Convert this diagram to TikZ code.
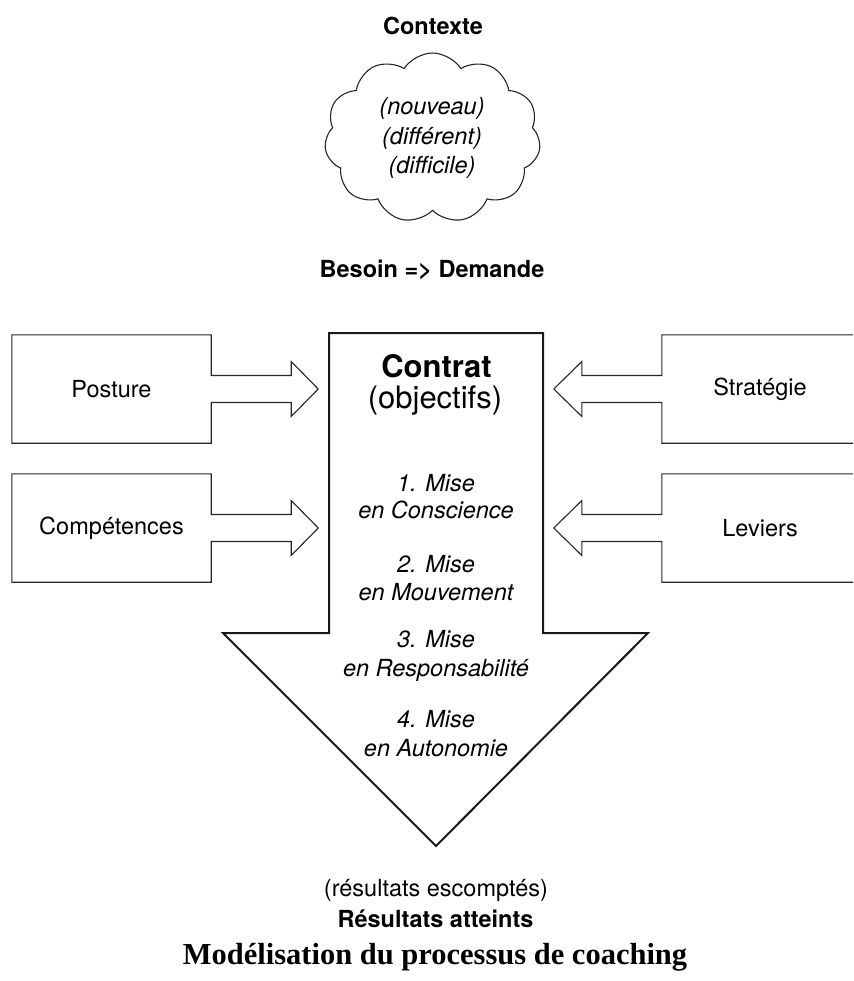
\documentclass[tikz,border=0pt]{standalone}
\usepackage{fontspec}
\setmainfont{TeX Gyre Heros}
\newfontfamily\capfont{Liberation Serif}
\usetikzlibrary{shapes.symbols,calc}
\begin{document}
\begin{tikzpicture}[x=1pt,y=-1pt,
  txt/.style={anchor=base,inner sep=0pt,font=\fontsize{23.5}{28}\selectfont},
  btxt/.style={txt,font=\fontsize{23.5}{28}\selectfont\bfseries},
  itxt/.style={txt,font=\fontsize{23.5}{28}\selectfont\itshape},
  bigtxt/.style={anchor=base,inner sep=0pt,font=\fontsize{31}{36}\selectfont},
  sidebox/.style={minimum width=199pt,minimum height=108pt,inner sep=0pt,font=\fontsize{23.5}{28}\selectfont},
  thinline/.style={draw=black!85,line width=1.1pt,line join=miter},
  thickline/.style={draw=black!90,line width=2pt,line join=miter}]
\useasboundingbox (0,0) rectangle (853,981);
\clip (0,0) rectangle (853,981);

% top texts
\node[btxt] (ctx) at (433,35) {Contexte};
\node[cloud, cloud puffs=11, cloud puff arc=115, aspect=1.3,
      thinline, minimum width=216pt, minimum height=170pt, inner sep=0pt]
      (cloud) at (432.5,138) {};
\node[itxt] (c1) at (432,115) {(nouveau)};
\node[itxt] (c2) at (432,145) {(différent)};
\node[itxt] (c3) at (432,174) {(difficile)};
\node[btxt] (bes) at (432,277) {Besoin => Demande};

% central arrow
\coordinate (ctl) at (329,333);
\coordinate (ctr) at (543,333);
\draw[thickline,fill=white] (ctl) -- (ctr) -- (543,633) -- (648,633) -- (436,846)
   -- (223,633) -- (329,633) -- cycle;
\node[btxt,font=\fontsize{31}{36}\selectfont\bfseries] (contrat) at (436.5,377) {Contrat};
\node[bigtxt] (obj) at (435,408) {(objectifs)};
\node[itxt] (m1a) at (436,491) {1. Mise};
\node[itxt] (m1b) at (436,518) {en Conscience};
\node[itxt] (m2a) at (436,572) {2. Mise};
\node[itxt] (m2b) at (436,600) {en Mouvement};
\node[itxt] (m3a) at (436,647) {3. Mise};
\node[itxt] (m3b) at (436,676) {en Responsabilité};
\node[itxt] (m4a) at (436,727) {4. Mise};
\node[itxt] (m4b) at (436,756) {en Autonomie};

% left boxes with arrows
\foreach \nm/\lbl/\yy in {posture/Posture/389, comp/Compétences/528}{
  \node[sidebox] (\nm) at (111.5,\yy) {\lbl};
  \draw[thinline,fill=white] ($(\nm.east)+(0,-13.5)$) -- (\nm.north east) -- (\nm.north west)
     -- (\nm.south west) -- (\nm.south east) -- ($(\nm.east)+(0,13.5)$)
     -- ++(80,0) -- ++(0,14) -- ($(\nm.east)+(107,0)$) -- ++(-27,-27.5) -- ++(0,14) -- cycle;
  \node[sidebox] at (\nm) {\lbl};
}
% right boxes with arrows
\foreach \nm/\lbl/\yy in {strat/Stratégie/389, lev/Leviers/528}{
  \node[sidebox,minimum width=196pt] (\nm) at (760,\yy) {\lbl};
  \draw[thinline,fill=white] ($(\nm.west)+(0,-13.5)$) -- (\nm.north west) -- (\nm.north east)
     -- (\nm.south east) -- (\nm.south west) -- ($(\nm.west)+(0,13.5)$)
     -- ++(-80,0) -- ++(0,14) -- ($(\nm.west)+(-108,0)$) -- ++(28,-27.5) -- ++(0,14) -- cycle;
  \node[sidebox,minimum width=196pt] at (\nm) {\lbl};
}

% bottom texts
\node[txt] (resc) at (436,896) {(résultats escomptés)};
\node[btxt] (ratt) at (435.5,927) {Résultats atteints};
\node[anchor=base,inner sep=0pt,font=\capfont\fontsize{30.5}{34}\selectfont\bfseries] (cap) at (435,964)
   {Modélisation du processus de coaching};
\end{tikzpicture}
\end{document}
